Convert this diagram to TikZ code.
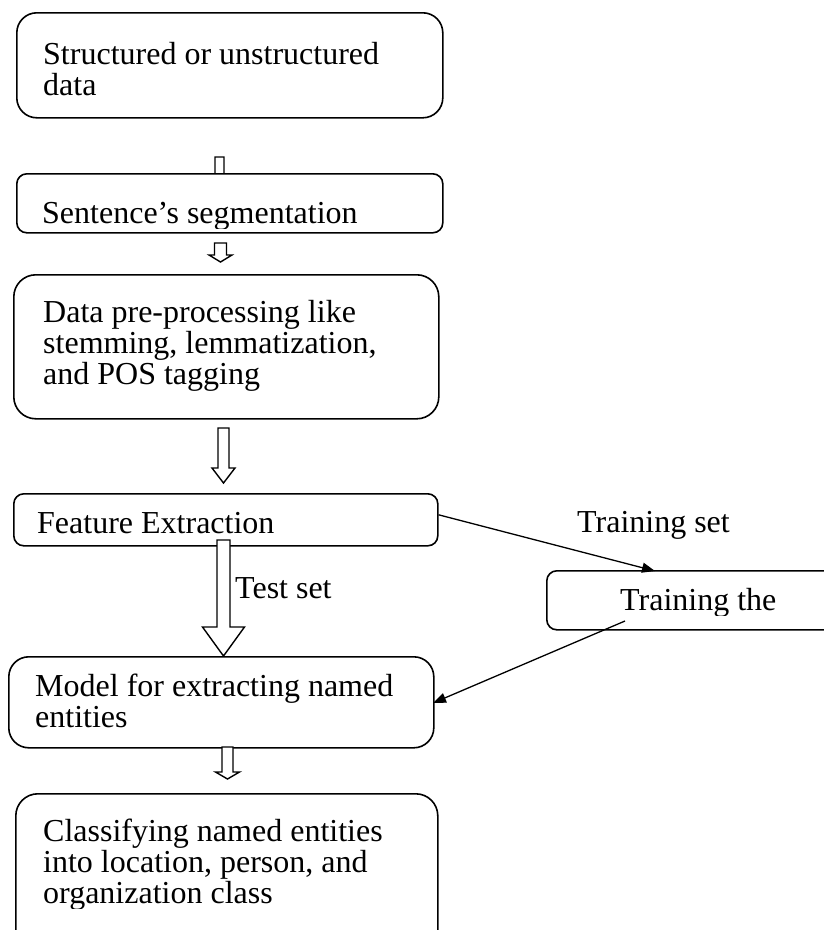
\documentclass[tikz,border=0pt]{standalone}
\usepackage{fontspec}
\setmainfont{Liberation Serif}
\usetikzlibrary{arrows.meta}
\newcommand\blkarrow[6]{%
  \draw[blk] ({#1-#5},#2) -- ({#1+#5},#2) -- ({#1+#5},#3) -- ({#1+#6},#3) -- (#1,#4) -- ({#1-#6},#3) -- ({#1-#5},#3) -- cycle;}
\begin{document}
\begin{tikzpicture}[x=1pt,y=-1pt,
  box/.style={draw, line width=1.6pt, fill=white, anchor=north west, inner sep=0pt},
  txt/.style={anchor=base west, inner sep=0pt, font=\fontsize{32}{31}\selectfont, align=left},
  blk/.style={draw, line width=1.4pt, fill=white, line join=miter},
  thin/.style={line width=1.3pt, -{Triangle[length=13pt,width=10pt]}}]
\useasboundingbox (0,0) rectangle (824,930);
\clip (0,0) rectangle (824,930);

% box 1
\node[box, rounded corners=20pt, minimum width=426pt, minimum height=105pt] (b1) at (16,12) {};
\node[txt] (t1) at (43,95) {Structured or unstructured\\data};

% arrow 1 (mostly hidden by box 2)
\blkarrow{219.5}{157}{190}{205}{4.5}{10}
% box 2
\node[box, rounded corners=10pt, minimum width=426pt, minimum height=59pt] (b2) at (16,173) {};
\begin{scope}
\clip (16,173) rectangle (442,228);
\node[txt] (t2) at (42,223) {Sentence’s segmentation};
\end{scope}

% arrow 2
\blkarrow{220.5}{243}{255}{262}{6}{11.5}

% box 3
\node[box, rounded corners=22pt, minimum width=425pt, minimum height=144pt] (b3) at (13,274) {};
\begin{scope}
\clip (13,274) rectangle (438,390);
\node[txt] (t3) at (43,384) {Data pre-processing like\\stemming, lemmatization,\\and POS tagging};
\end{scope}

% arrow 3
\blkarrow{223.5}{428}{468}{483}{5.5}{11.5}

% box 4
\node[box, rounded corners=10pt, minimum width=424pt, minimum height=52pt] (b4) at (13,493) {};
\node[txt] (t4) at (37,533) {Feature Extraction};

% test set arrow
\blkarrow{223.5}{540}{627}{656}{6.5}{21}
\node[txt] (ts) at (235,598) {Test set};

% box 5
\node[box, rounded corners=20pt, minimum width=425pt, minimum height=91pt] (b5) at (8,656) {};
\node[txt] (t5) at (35,727) {Model for extracting named\\entities};

% arrow 5
\blkarrow{227.5}{747}{772}{779}{5.5}{12}

% box 6
\node[box, rounded corners=22pt, minimum width=422pt, minimum height=160pt] (b6) at (15,793) {};
\begin{scope}
\clip (15,793) rectangle (437,908);
\node[txt] (t6) at (43,903) {Classifying named entities\\into location, person, and\\organization class};
\end{scope}

% training box
\node[box, rounded corners=10pt, minimum width=360pt, minimum height=59pt] (tr) at (546,570) {};
\begin{scope}
\clip (546,570) rectangle (900,615);
\node[txt] (ttr) at (620,610) {Training the};
\end{scope}
\node[txt] (tsl) at (577,532) {Training set};

% thin arrows
\coordinate (s1) at ([yshift=5pt]b4.east);
\coordinate (e1) at (655,571);
\draw[thin] (s1) -- (e1);
\coordinate (s2) at (625,621);
\coordinate (e2) at (433,703);
\draw[thin] (s2) -- (e2);
\end{tikzpicture}
\end{document}
